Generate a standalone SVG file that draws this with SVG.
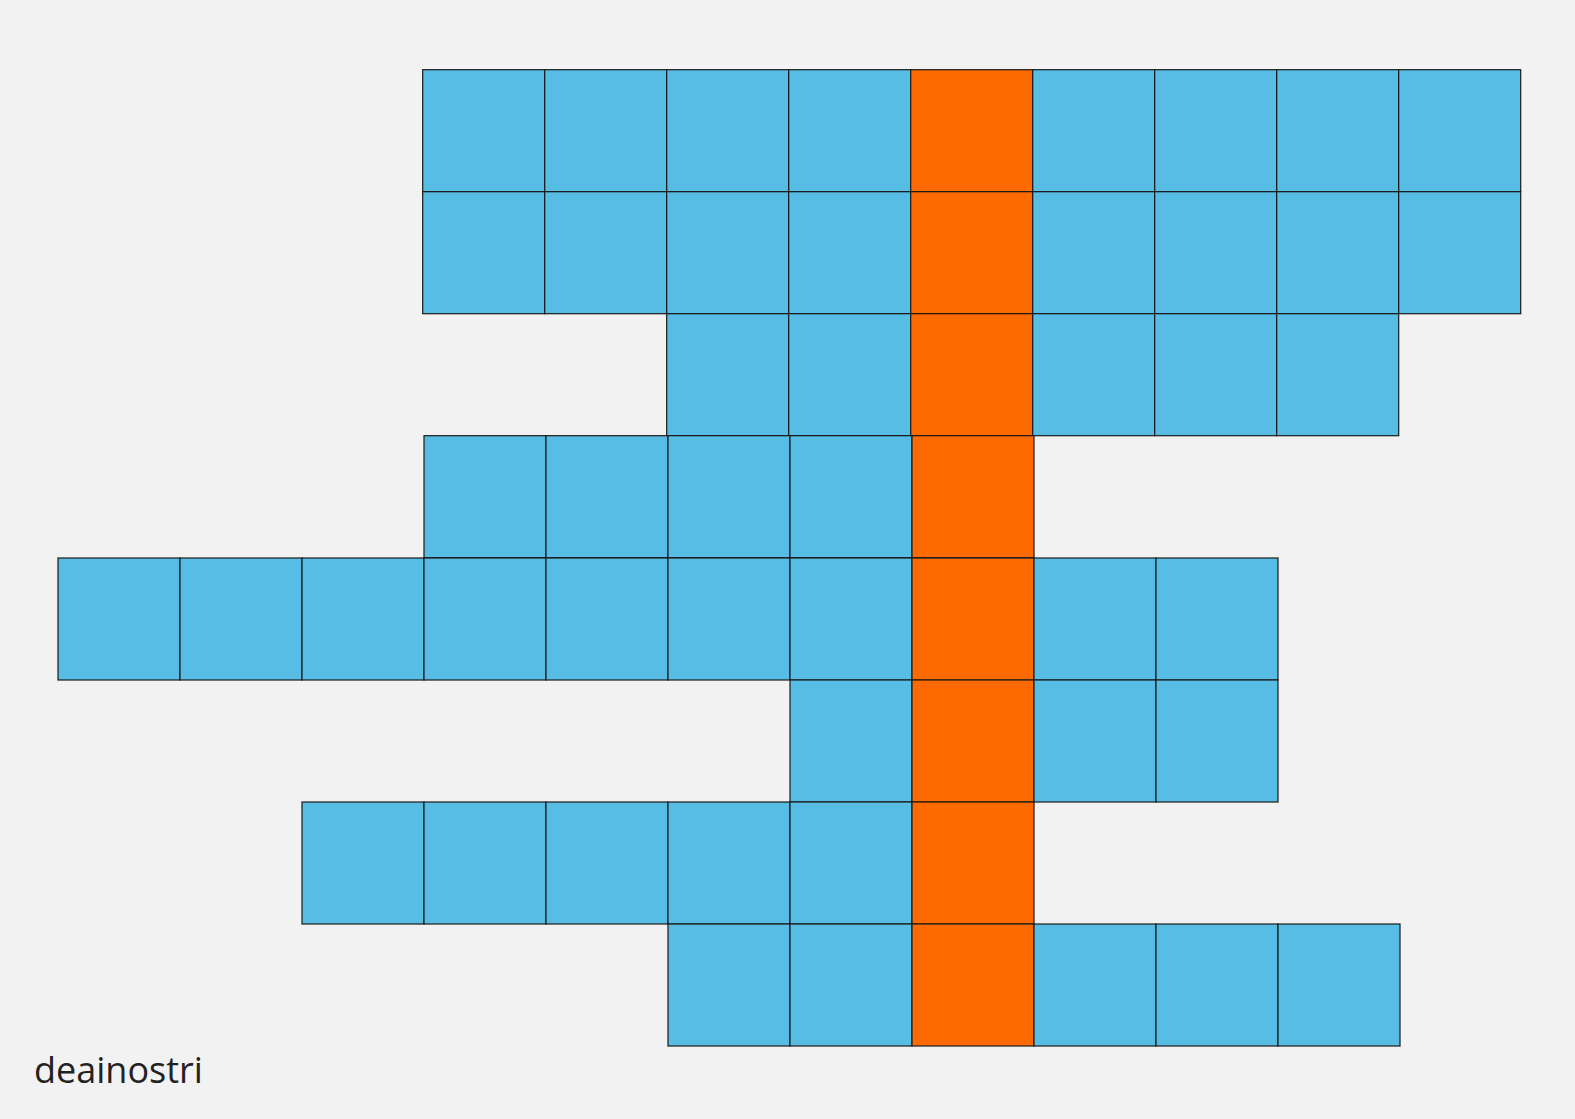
<svg xmlns="http://www.w3.org/2000/svg" width="1575" height="1119" viewBox="0 0 1575 1119">
<style>
.b{fill:#57BDE5;stroke:#1a1a1a;stroke-width:1.2}
.o{fill:#FF6A00;stroke:#1a1a1a;stroke-width:1.2}
.t{font-family:"Open Sans","Noto Sans",sans-serif;font-size:36px;fill:#222}
</style>
<rect width="1575" height="1119" fill="#F2F2F2"/>
<g id="row1">
<rect class="b" x="422.7" y="69.7" width="122" height="122"/>
<rect class="b" x="544.7" y="69.7" width="122" height="122"/>
<rect class="b" x="666.7" y="69.7" width="122" height="122"/>
<rect class="b" x="788.7" y="69.7" width="122" height="122"/>
<rect class="o" x="910.7" y="69.7" width="122" height="122"/>
<rect class="b" x="1032.7" y="69.7" width="122" height="122"/>
<rect class="b" x="1154.7" y="69.7" width="122" height="122"/>
<rect class="b" x="1276.7" y="69.7" width="122" height="122"/>
<rect class="b" x="1398.7" y="69.7" width="122" height="122"/>
</g>
<g id="row2">
<rect class="b" x="422.7" y="191.7" width="122" height="122"/>
<rect class="b" x="544.7" y="191.7" width="122" height="122"/>
<rect class="b" x="666.7" y="191.7" width="122" height="122"/>
<rect class="b" x="788.7" y="191.7" width="122" height="122"/>
<rect class="o" x="910.7" y="191.7" width="122" height="122"/>
<rect class="b" x="1032.7" y="191.7" width="122" height="122"/>
<rect class="b" x="1154.7" y="191.7" width="122" height="122"/>
<rect class="b" x="1276.7" y="191.7" width="122" height="122"/>
<rect class="b" x="1398.7" y="191.7" width="122" height="122"/>
</g>
<g id="row3">
<rect class="b" x="666.7" y="313.7" width="122" height="122"/>
<rect class="b" x="788.7" y="313.7" width="122" height="122"/>
<rect class="o" x="910.7" y="313.7" width="122" height="122"/>
<rect class="b" x="1032.7" y="313.7" width="122" height="122"/>
<rect class="b" x="1154.7" y="313.7" width="122" height="122"/>
<rect class="b" x="1276.7" y="313.7" width="122" height="122"/>
</g>
<g id="row4">
<rect class="b" x="424" y="435.7" width="122" height="122"/>
<rect class="b" x="546" y="435.7" width="122" height="122"/>
<rect class="b" x="668" y="435.7" width="122" height="122"/>
<rect class="b" x="790" y="435.7" width="122" height="122"/>
<rect class="o" x="912" y="435.7" width="122" height="122"/>
</g>
<g id="row5">
<rect class="b" x="58" y="558" width="122" height="122"/>
<rect class="b" x="180" y="558" width="122" height="122"/>
<rect class="b" x="302" y="558" width="122" height="122"/>
<rect class="b" x="424" y="558" width="122" height="122"/>
<rect class="b" x="546" y="558" width="122" height="122"/>
<rect class="b" x="668" y="558" width="122" height="122"/>
<rect class="b" x="790" y="558" width="122" height="122"/>
<rect class="o" x="912" y="558" width="122" height="122"/>
<rect class="b" x="1034" y="558" width="122" height="122"/>
<rect class="b" x="1156" y="558" width="122" height="122"/>
</g>
<g id="row6">
<rect class="b" x="790" y="680" width="122" height="122"/>
<rect class="o" x="912" y="680" width="122" height="122"/>
<rect class="b" x="1034" y="680" width="122" height="122"/>
<rect class="b" x="1156" y="680" width="122" height="122"/>
</g>
<g id="row7">
<rect class="b" x="302" y="802" width="122" height="122"/>
<rect class="b" x="424" y="802" width="122" height="122"/>
<rect class="b" x="546" y="802" width="122" height="122"/>
<rect class="b" x="668" y="802" width="122" height="122"/>
<rect class="b" x="790" y="802" width="122" height="122"/>
<rect class="o" x="912" y="802" width="122" height="122"/>
</g>
<g id="row8">
<rect class="b" x="668" y="924" width="122" height="122"/>
<rect class="b" x="790" y="924" width="122" height="122"/>
<rect class="o" x="912" y="924" width="122" height="122"/>
<rect class="b" x="1034" y="924" width="122" height="122"/>
<rect class="b" x="1156" y="924" width="122" height="122"/>
<rect class="b" x="1278" y="924" width="122" height="122"/>
</g>
<g id="connectors"/>
<text id="label" class="t" x="34" y="1083">deainostri</text>
</svg>
